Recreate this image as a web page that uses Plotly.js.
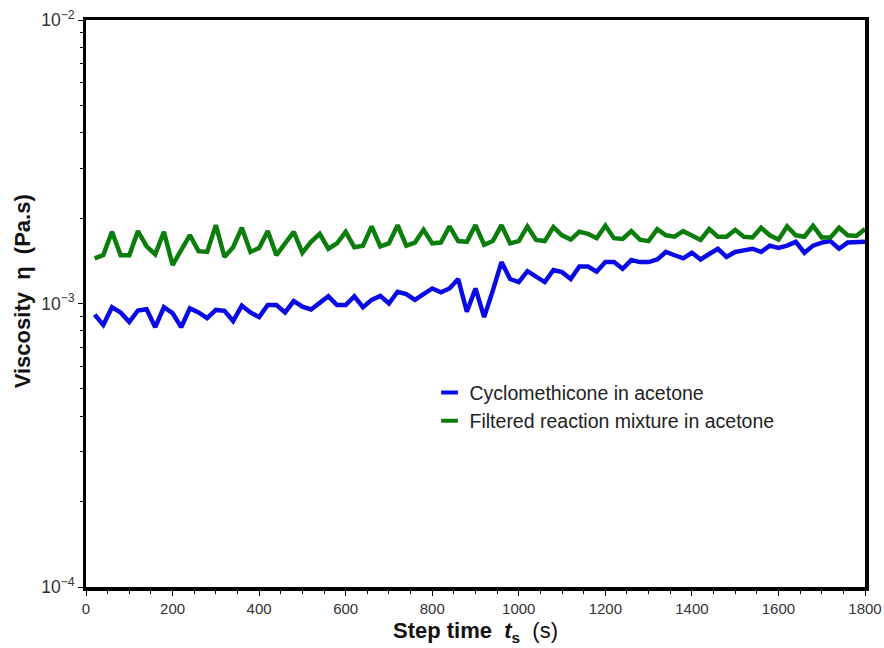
<!DOCTYPE html>
<html>
<head>
<meta charset="utf-8">
<script src="https://cdn.plot.ly/plotly-3.0.1.min.js"></script>
<style>html,body{margin:0;padding:0;background:#fff;}#chart{width:884px;height:648px;}</style>
</head>
<body>
<div id="chart"></div>
<script>
// Step time (s)
const stepTime = [20,40,60,80,100,120,140,160,180,200,220,240,260,280,300,320,340,360,380,400,
  420,440,460,480,500,520,540,560,580,600,620,640,660,680,700,720,740,760,780,800,
  820,840,860,880,900,920,940,960,980,1000,1020,1040,1060,1080,1100,1120,1140,1160,1180,1200,
  1220,1240,1260,1280,1300,1320,1340,1360,1380,1400,1420,1440,1460,1480,1500,1520,1540,1560,1580,1600,
  1620,1640,1660,1680,1700,1720,1740,1760,1780,1800];

// Viscosity (Pa.s) – Cyclomethicone in acetone
const cyclomethicone = [0.914e-3,0.840e-3,0.970e-3,0.930e-3,0.860e-3,0.945e-3,0.955e-3,0.825e-3,0.970e-3,0.925e-3,
  0.825e-3,0.962e-3,0.930e-3,0.888e-3,0.949e-3,0.942e-3,0.867e-3,0.983e-3,0.930e-3,0.895e-3,
  0.988e-3,0.988e-3,0.930e-3,1.020e-3,0.975e-3,0.953e-3,1.005e-3,1.060e-3,0.988e-3,0.988e-3,
  1.060e-3,0.970e-3,1.030e-3,1.064e-3,1.000e-3,1.100e-3,1.080e-3,1.030e-3,1.080e-3,1.130e-3,
  1.095e-3,1.130e-3,1.220e-3,0.935e-3,1.130e-3,0.895e-3,1.110e-3,1.400e-3,1.220e-3,1.190e-3,
  1.300e-3,1.250e-3,1.190e-3,1.313e-3,1.290e-3,1.220e-3,1.350e-3,1.350e-3,1.295e-3,1.400e-3,
  1.400e-3,1.325e-3,1.423e-3,1.400e-3,1.400e-3,1.430e-3,1.520e-3,1.480e-3,1.443e-3,1.510e-3,
  1.430e-3,1.495e-3,1.560e-3,1.460e-3,1.520e-3,1.540e-3,1.560e-3,1.520e-3,1.600e-3,1.570e-3,
  1.600e-3,1.650e-3,1.510e-3,1.600e-3,1.640e-3,1.660e-3,1.560e-3,1.640e-3,1.650e-3,1.650e-3];

// Viscosity (Pa.s) – Filtered reaction mixture in acetone
const filteredMixture = [1.443e-3,1.483e-3,1.790e-3,1.480e-3,1.480e-3,1.800e-3,1.590e-3,1.490e-3,1.790e-3,1.367e-3,
  1.544e-3,1.744e-3,1.530e-3,1.520e-3,1.890e-3,1.460e-3,1.580e-3,1.850e-3,1.520e-3,1.570e-3,
  1.800e-3,1.480e-3,1.630e-3,1.790e-3,1.510e-3,1.650e-3,1.760e-3,1.560e-3,1.630e-3,1.790e-3,
  1.580e-3,1.600e-3,1.870e-3,1.590e-3,1.630e-3,1.890e-3,1.600e-3,1.640e-3,1.820e-3,1.630e-3,
  1.640e-3,1.870e-3,1.660e-3,1.650e-3,1.890e-3,1.610e-3,1.660e-3,1.890e-3,1.630e-3,1.660e-3,
  1.870e-3,1.675e-3,1.660e-3,1.860e-3,1.740e-3,1.680e-3,1.790e-3,1.760e-3,1.700e-3,1.880e-3,
  1.700e-3,1.690e-3,1.800e-3,1.680e-3,1.660e-3,1.830e-3,1.740e-3,1.720e-3,1.800e-3,1.740e-3,
  1.675e-3,1.830e-3,1.720e-3,1.720e-3,1.820e-3,1.720e-3,1.710e-3,1.850e-3,1.740e-3,1.680e-3,
  1.870e-3,1.740e-3,1.720e-3,1.880e-3,1.710e-3,1.710e-3,1.850e-3,1.740e-3,1.730e-3,1.830e-3];

const seriesNames = ['Cyclomethicone in acetone', 'Filtered reaction mixture in acetone'];
const xTickVals = [0,200,400,600,800,1000,1200,1400,1600,1800];

const blue = '#0a0ae6';
const green = '#0b7d0b';
const font = 'Arial, "Liberation Sans", sans-serif';

const traces = [
  {x: stepTime, y: cyclomethicone, mode: 'lines', line: {color: blue, width: 4.5}, showlegend: false, hoverinfo: 'skip'},
  {x: stepTime, y: filteredMixture, mode: 'lines', line: {color: green, width: 4.5}, showlegend: false, hoverinfo: 'skip'},
  {x: [null], y: [null], mode: 'markers', name: seriesNames[0],
   marker: {symbol: 'line-ew-open', size: 12, color: blue, line: {color: blue, width: 4}}},
  {x: [null], y: [null], mode: 'markers', name: seriesNames[1],
   marker: {symbol: 'line-ew-open', size: 12, color: green, line: {color: green, width: 4}}}
];

const layout = {
  width: 884, height: 648,
  margin: {l: 86, r: 19, t: 20, b: 61},
  paper_bgcolor: '#fff', plot_bgcolor: '#fff',
  font: {family: font, color: '#333'},
  xaxis: {
    range: [0, 1800], tickvals: xTickVals, ticks: 'outside', ticklen: 5, tickwidth: 1, tickcolor: '#000',
    showline: true, linewidth: 3.5, linecolor: '#000', mirror: true, showgrid: false, zeroline: false,
    tickfont: {size: 15, color: '#333', family: font},
    minor: {dtick: 50, ticks: 'outside', ticklen: 3, tickcolor: '#000', showgrid: false},
    title: {text: '<b>Step time </b> <b><i>t</i></b><sub><b>s</b></sub>&nbsp; (s)', font: {size: 22, color: '#111', family: font}, standoff: 8}
  },
  yaxis: {
    type: 'log', range: [-4, -2], dtick: 1, exponentformat: 'power', ticks: 'outside', ticklen: 5, tickwidth: 1, tickcolor: '#000',
    showline: true, linewidth: 3.5, linecolor: '#000', mirror: true, showgrid: false, zeroline: false,
    tickfont: {size: 14, color: '#333', family: font},
    minor: {dtick: 'D1', ticks: 'outside', ticklen: 3, tickcolor: '#000', showgrid: false},
    title: {text: '<b>&nbsp;&nbsp;&nbsp;&nbsp;Viscosity&nbsp; η&nbsp; (Pa.s)</b>', font: {size: 22, color: '#111', family: font}, standoff: 5}
  },
  legend: {x: 0.441, y: 0.377, xanchor: 'left', yanchor: 'top', bgcolor: 'rgba(0,0,0,0)',
    font: {size: 19.5, color: '#222', family: font}, itemwidth: 30, tracegroupgap: 0},
  showlegend: true
};

Plotly.newPlot('chart', traces, layout, {staticPlot: true, displayModeBar: false});
</script>
</body>
</html>
